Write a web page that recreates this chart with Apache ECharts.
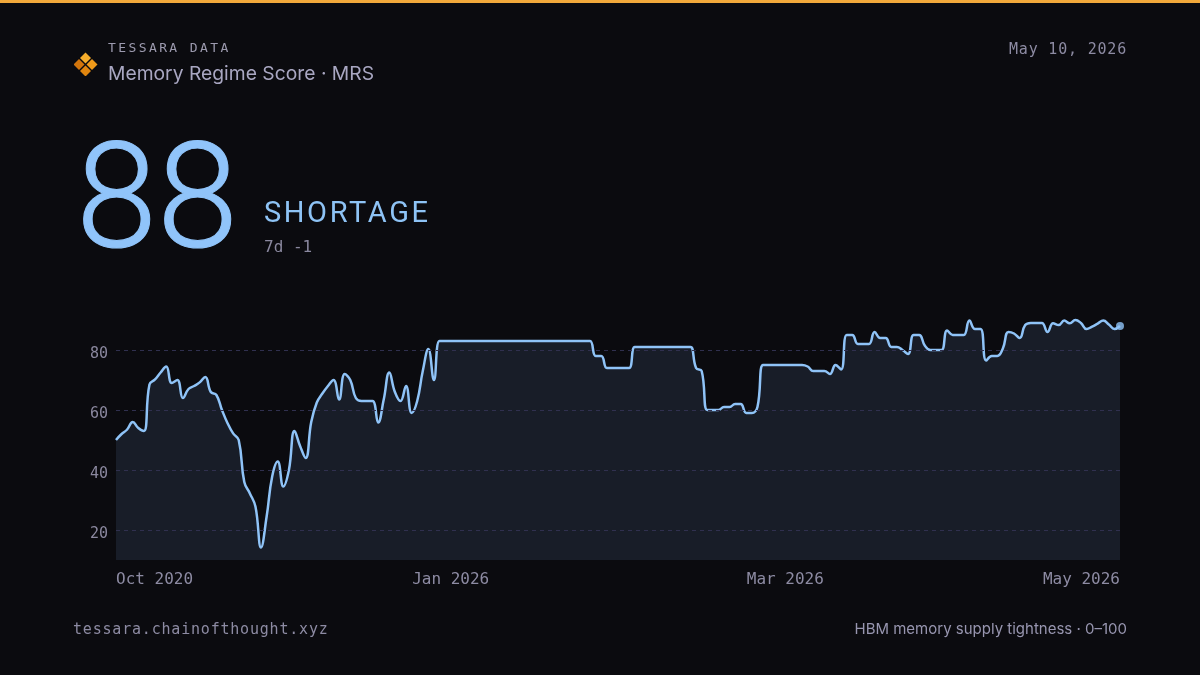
<!DOCTYPE html>
<html>
<head>
<meta charset="utf-8">
<title>Memory Regime Score</title>
<script src="https://cdn.jsdelivr.net/npm/echarts@6/dist/echarts.min.js"></script>
<style>
	html, body { margin: 0; padding: 0; background: #0b0b0f; }
	#page { position: relative; width: 1200px; height: 675px; overflow: hidden; background: #0b0b0f; }
	#chart { position: absolute; left: 0; top: 0; width: 1200px; height: 675px; }
	.txt { position: absolute; white-space: nowrap; pointer-events: none; }
	#topbar { position: absolute; left: 0; top: 0; width: 1200px; height: 3px; background: #f2a93b; }
	#brand { left: 108px; top: 40px; font: 13px "DejaVu Sans Mono", monospace; letter-spacing: 2.4px; color: #9c9aae; }
	#title { left: 108px; top: 61px; font: 19.3px Inter, "Noto Sans", sans-serif; color: #a9a7c2; }
	#date { right: 73px; top: 40px; font: 15px "DejaVu Sans Mono", monospace; letter-spacing: 0.8px; color: #8d8ba3; }
	#big { left: 76px; top: 125px; font: 300 146px/146px Roboto, sans-serif; color: #90c4fa; -webkit-text-stroke: 1px #90c4fa; }
	#regime { left: 264px; top: 196px; font: 29px/32px Roboto, sans-serif; letter-spacing: 2.6px; color: #8ec3f5; }
	#delta { left: 264px; top: 237px; font: 16px "DejaVu Sans Mono", monospace; color: #8a889f; }
	#site { left: 73px; top: 620px; font: 15px "DejaVu Sans Mono", monospace; letter-spacing: 0.8px; color: #8d8ba3; }
	#note { right: 73px; top: 619px; font: 15px Inter, "Noto Sans", sans-serif; color: #9896b0; }
	#logo { position: absolute; left: 74px; top: 52px; }
</style>
</head>
<body>
<div id="page">
	<div id="chart"></div>
	<div id="topbar"></div>
	<svg id="logo" width="24" height="24" viewBox="0 0 24 24">
		<polygon points="11.5,0.5 17,6 11.5,11.5 6,6" fill="#f6ad2b"/>
		<polygon points="5,7 10.5,12.5 5,18 -0.5,12.5" fill="#d2750c"/>
		<polygon points="18,7 23.5,12.5 18,18 12.5,12.5" fill="#f09a1a"/>
		<polygon points="11.5,13.5 17,19 11.5,24.5 6,19" fill="#e0850f"/>
	</svg>
	<div class="txt" id="brand">TESSARA DATA</div>
	<div class="txt" id="title">Memory Regime Score · MRS</div>
	<div class="txt" id="date">May 10, 2026</div>
	<div class="txt" id="big">88</div>
	<div class="txt" id="regime">SHORTAGE</div>
	<div class="txt" id="delta">7d -1</div>
	<div class="txt" id="site">tessara.chainofthought.xyz</div>
	<div class="txt" id="note">HBM memory supply tightness · 0–100</div>
</div>
<script>
'use strict';
(function(){
	var MONTHS = ['Jan','Feb','Mar','Apr','May','Jun','Jul','Aug','Sep','Oct','Nov','Dec'];

	// history (monthly) then daily from Jan 10, 2026 to May 10, 2026
	var histStart = [2020, 9];   // Oct 2020
	var histCount = 60;
	var dailyStart = [2026, 0, 10];
	var dailyEnd = [2026, 4, 10];

	var histScores = [
		50, 52, 53.5, 56, 54, 53, 68.5, 70.2, 72.5, 74.5,
		69, 70, 64, 67, 68, 69.2, 71, 66, 65, 60,
		55.6, 52.2, 50, 36, 32.2, 27.8, 14.2, 24.4, 37.8, 42.8,
		34.5, 40, 53, 48, 44, 56, 62.5, 65.5, 68, 70,
		63.5, 72, 70, 64, 63, 63, 63, 55.8, 63.5, 72.5,
		66, 63, 68, 59, 63, 73, 80.3, 70, 83, 83
	];
	var dailyScores = [
		83, 83, 83, 83, 83, 83, 83, 83, 83, 83,
		83, 83, 83, 83, 83, 83, 83, 83, 83, 83,
		83, 83, 83, 83, 83, 83, 78, 78, 74, 74,
		74, 74, 74, 81, 81, 81, 81, 81, 81, 81,
		81, 81, 81, 81, 74, 73, 60, 60, 60, 61,
		61, 62, 62, 59, 59, 61, 75, 75, 75, 75,
		75, 75, 75, 75, 74.5, 73, 73, 73, 72, 75,
		73.5, 85, 85, 82, 82, 82, 86, 84, 84, 81,
		81, 80, 78.7, 85, 85, 81.5, 80, 80, 80, 86.5,
		85, 85, 85, 89.8, 87, 87, 76.5, 78, 78, 80.5,
		86, 85.5, 84, 88.3, 89, 89, 89, 86, 88.9, 88.3,
		89.8, 88.9, 90, 89, 87, 87.8, 88.8, 89.8, 88.5, 87,
		88
	];
	var yTicks = [20, 40, 60, 80];
	var labelEvery = 60;

	function pad(n){ return n < 10 ? '0' + n : '' + n; }

	var dates = [];
	for (var m = 0; m < histCount; m++) {
		var y = histStart[0] + Math.floor((histStart[1] + m) / 12);
		var mo = (histStart[1] + m) % 12;
		dates.push(y + '-' + pad(mo + 1) + '-01');
	}
	var d = new Date(Date.UTC(dailyStart[0], dailyStart[1], dailyStart[2]));
	var end = new Date(Date.UTC(dailyEnd[0], dailyEnd[1], dailyEnd[2]));
	while (d <= end) {
		dates.push(d.getUTCFullYear() + '-' + pad(d.getUTCMonth() + 1) + '-' + pad(d.getUTCDate()));
		d = new Date(d.getTime() + 86400000);
	}
	var scores = histScores.concat(dailyScores);
	var last = scores.length - 1;

	var chart = echarts.init(document.getElementById('chart'), null, {renderer: 'canvas'});
	chart.setOption({
		backgroundColor: 'transparent',
		animation: false,
		grid: { left: 116, right: 80, top: 290, bottom: 115 },
		xAxis: {
			type: 'category',
			data: dates,
			boundaryGap: false,
			axisLine: { show: false },
			axisTick: { show: false },
			splitLine: { show: false },
			axisLabel: {
				interval: function(i){ return i % labelEvery === 0; },
				alignMinLabel: 'left',
				alignMaxLabel: 'right',
				margin: 12,
				color: '#8d8ba3',
				fontFamily: 'DejaVu Sans Mono',
				fontSize: 16,
				formatter: function(v){
					var p = v.split('-');
					return MONTHS[parseInt(p[1], 10) - 1] + ' ' + p[0];
				}
			}
		},
		yAxis: {
			type: 'value',
			min: 10,
			max: 100,
			interval: 10,
			axisLine: { show: false },
			axisTick: { show: false },
			splitLine: { show: false },
			axisLabel: {
				margin: 8,
				verticalAlign: 'top',
				lineHeight: 8,
				color: '#8b889f',
				fontFamily: 'DejaVu Sans Mono',
				fontSize: 15,
				formatter: function(v){ return yTicks.indexOf(v) >= 0 ? String(v) : ''; }
			}
		},
		series: [
			{
				type: 'line',
				data: scores,
				smooth: 0.45,
				showSymbol: false,
				lineStyle: { color: '#8fc3f7', width: 2.5 },
				areaStyle: { color: '#181d28', opacity: 1 },
				markLine: {
					silent: true,
					symbol: ['none', 'none'],
					label: { show: false },
					lineStyle: { color: '#30304f', width: 1, type: [4, 4] },
					data: yTicks.map(function(t){ return { yAxis: t }; })
				},
				z: 2
			},
			{
				type: 'scatter',
				data: [[dates[last], scores[last]]],
				symbol: 'circle',
				symbolSize: 8,
				itemStyle: { color: '#8fc3f7' },
				z: 3
			}
		]
	});
}());
</script>
</body>
</html>
